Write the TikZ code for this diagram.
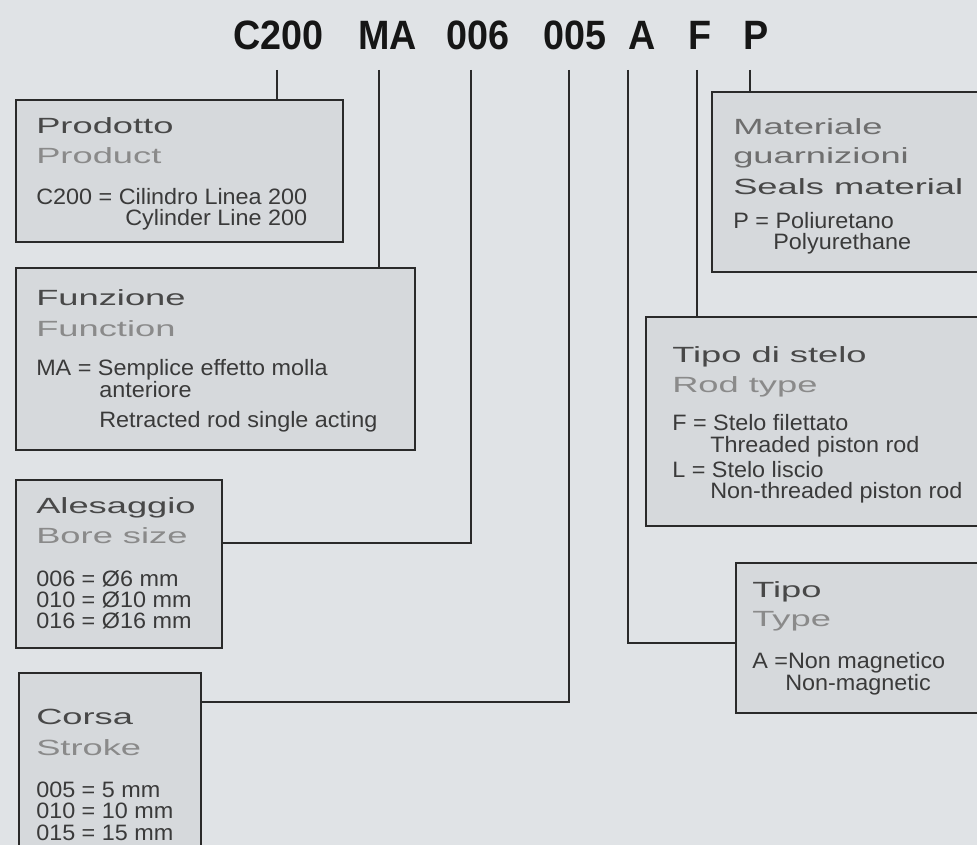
\documentclass[tikz,border=0pt]{standalone}
\usepackage{fontspec}
\setmainfont{Liberation Sans}
\newfontfamily\ttlfont[FakeStretch=1.65]{Liberation Sans}
\newfontfamily\codefont[FakeStretch=0.92]{Liberation Sans}
\newfontfamily\bodyfont[FakeStretch=1.05]{Liberation Sans}
\definecolor{bg}{HTML}{E0E3E6}
\definecolor{boxfill}{HTML}{D6D9DC}
\definecolor{boxline}{HTML}{2A2A2A}
\definecolor{ttldark}{HTML}{484848}
\definecolor{ttllight}{HTML}{8A8A8A}
\definecolor{bodycol}{HTML}{3A3A3A}
\definecolor{codecol}{HTML}{161616}
\begin{document}
\begin{tikzpicture}[x=0.75pt,y=-0.75pt,
  box/.style={draw=boxline, line width=2.2pt, fill=boxfill, anchor=north west, inner sep=0pt, outer sep=0pt},
  code/.style={anchor=base west, inner sep=0pt, font=\codefont\bfseries\fontsize{30.75}{30}\selectfont, text=codecol},
  ttl/.style={anchor=base west, inner sep=0pt, font=\ttlfont\fontsize{16.5}{18}\selectfont, text=ttldark},
  sub/.style={ttl, text=ttllight},
  body/.style={anchor=base west, inner sep=0pt, font=\bodyfont\fontsize{16.7}{17}\selectfont, text=bodycol},
  link/.style={draw=boxline, line width=2.2pt}]
\fill[bg] (0,0) rectangle (977,845);
\clip (0,0) rectangle (977,845);

% code labels
\node[code] (lC200) at (233,50) {C200};
\node[code] (lMA) at (358,50) {MA};
\node[code] (l006) at (446,50) {006};
\node[code] (l005) at (543,50) {005};
\node[code] (lA) at (628,50) {A};
\node[code] (lF) at (688,50) {F};
\node[code] (lP) at (743,50) {P};

\coordinate (kC200) at (277,70);
\coordinate (kMA) at (379,70);
\coordinate (k006) at (471,70);
\coordinate (k005) at (569,70);
\coordinate (kA) at (628,70);
\coordinate (kF) at (697,70);
\coordinate (kP) at (750,70);

% boxes
\node[box, minimum width=245.25pt, minimum height=106.5pt] (b1) at (16,100) {};
\node[box, minimum width=299.25pt, minimum height=136.5pt] (b2) at (16,268) {};
\node[box, minimum width=154.5pt, minimum height=126pt] (b3) at (16,480) {};
\node[box, minimum width=136.5pt, minimum height=170pt] (b4) at (19,673) {};
\node[box, minimum width=216pt, minimum height=135pt] (b5) at (712,92) {};
\node[box, minimum width=265.5pt, minimum height=156.75pt] (b6) at (646,317) {};
\node[box, minimum width=198pt, minimum height=112.5pt] (b7) at (736,563) {};

\coordinate (j3) at (222,543);
\coordinate (j4) at (201,702);
\coordinate (j7) at (736,643);

% connectors
\draw[link] (kC200) -- (kC200 |- b1.north);
\draw[link] (kMA) -- (kMA |- b2.north);
\draw[link] (k006) |- (j3);
\draw[link] (k005) |- (j4);
\draw[link] (kA) |- (j7);
\draw[link] (kF) -- (kF |- b6.north);
\draw[link] (kP) -- (kP |- b5.north);

% box 1
\node[ttl] (t1a) at (36,134) {Prodotto};
\node[sub] (t1b) at (36,164) {Product};
\node[body] (t1c) at (36,204) {C200 = Cilindro Linea 200};
\node[body] (t1d) at (125,225) {Cylinder Line 200};

% box 2
\node[ttl] (t2a) at (36,305) {Funzione};
\node[sub] (t2b) at (36,336) {Function};
\node[body] (t2c) at (36,375) {MA = Semplice effetto molla};
\node[body] (t2d) at (99,397) {anteriore};
\node[body] (t2e) at (99,427) {Retracted rod single acting};

% box 3
\node[ttl] (t3a) at (36,513) {Alesaggio};
\node[sub] (t3b) at (36,543) {Bore size};
\node[body] (t3c) at (36,586) {006 = Ø6 mm};
\node[body] (t3d) at (36,607) {010 = Ø10 mm};
\node[body] (t3e) at (36,628) {016 = Ø16 mm};

% box 4
\node[ttl] (t4a) at (36,724) {Corsa};
\node[sub] (t4b) at (36,755) {Stroke};
\node[body] (t4c) at (36,797) {005 = 5 mm};
\node[body] (t4d) at (36,818) {010 = 10 mm};
\node[body] (t4e) at (36,840) {015 = 15 mm};

% box 5
\node[sub, text=ttllight!80!black] (t5a) at (733,135) {Materiale};
\node[sub, text=ttllight!80!black] (t5b) at (733,163) {guarnizioni};
\node[ttl] (t5c) at (733,195) {Seals material};
\node[body] (t5d) at (733,228) {P = Poliuretano};
\node[body] (t5e) at (773,249) {Polyurethane};

% box 6
\node[ttl] (t6a) at (672,362) {Tipo di stelo};
\node[sub] (t6b) at (672,392) {Rod type};
\node[body] (t6c) at (672,430) {F = Stelo filettato};
\node[body] (t6d) at (710,452) {Threaded piston rod};
\node[body] (t6e) at (672,477) {L = Stelo liscio};
\node[body] (t6f) at (710,498) {Non-threaded piston rod};

% box 7
\node[ttl] (t7a) at (752,597) {Tipo};
\node[sub] (t7b) at (752,626) {Type};
\node[body] (t7c) at (752,668) {A =Non magnetico};
\node[body] (t7d) at (785,690) {Non-magnetic};
\end{tikzpicture}
\end{document}
